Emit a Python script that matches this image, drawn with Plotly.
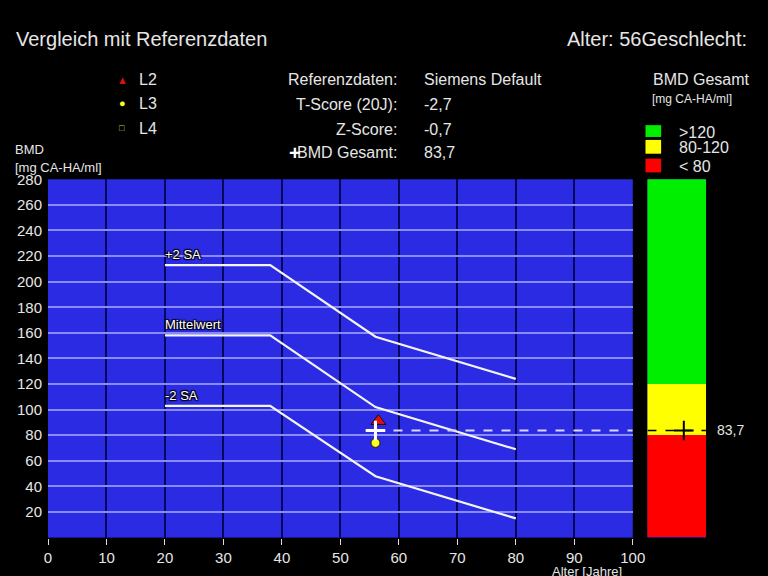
import plotly.graph_objects as go

# ---------------- data ----------------
ref_ages = [20, 38, 56, 80]
plus2sa = [213, 213, 157, 124]
mittelwert = [158, 158, 102, 69]
minus2sa = [103, 103, 48, 15]
curve_labels = ["+2 SA", "Mittelwert", "-2 SA"]

patient_age = 56
l2_value = 91
l3_value = 74
bmd_total = 83.7

class_bases = [0, 80, 120]
class_heights = [80, 40, 160]
class_colors = ["#ff0000", "#ffff00", "#00ee00"]
class_labels = ["< 80", "80-120", ">120"]

x_ticks = [0, 10, 20, 30, 40, 50, 60, 70, 80, 90, 100]
y_ticks = [20, 40, 60, 80, 100, 120, 140, 160, 180, 200, 220, 240, 260, 280]

info_labels = ["Referenzdaten:", "T-Score (20J):", "Z-Score:", "BMD Gesamt:"]
info_values = ["Siemens Default", "-2,7", "-0,7", "83,7"]

W, H = 768, 576
FONT = "Liberation Sans, Arial, sans-serif"
TXT = "#e6e6e6"


def px(x):
    return x / W


def py(y):
    return 1 - y / H


fig = go.Figure()

# reference curves
for vals, lab in zip([plus2sa, mittelwert, minus2sa], curve_labels):
    fig.add_trace(go.Scatter(x=ref_ages, y=vals, mode="lines",
                             line=dict(color="#f4f4f4", width=2.2),
                             hoverinfo="skip", showlegend=False))
    fig.add_annotation(x=ref_ages[0], y=vals[0], xref="x", yref="y",
                       text=lab, showarrow=False, xanchor="left", yanchor="bottom",
                       yshift=1, xshift=-2,
                       font=dict(family=FONT, size=13, color="white",
                                 shadow="1px 1px 1px black, -1px -1px 1px black, 1px -1px 1px black, -1px 1px 1px black"))

# dashed total line in main plot
fig.add_trace(go.Scatter(x=[patient_age, x_ticks[-1]], y=[bmd_total, bmd_total], mode="lines",
                         line=dict(color="#d8d8ff", width=2, dash="dash"),
                         hoverinfo="skip", showlegend=False))

# patient points
fig.add_trace(go.Scatter(x=[patient_age + 0.5], y=[l2_value], mode="markers",
                         marker=dict(symbol="triangle-up", size=13, color="#dd1010",
                                     line=dict(color="#300000", width=1)),
                         showlegend=False))
fig.add_trace(go.Scatter(x=[patient_age], y=[l3_value], mode="markers",
                         marker=dict(symbol="circle", size=9, color="#ffff20",
                                     line=dict(color="#202000", width=1)),
                         showlegend=False))
fig.add_trace(go.Scatter(x=[patient_age], y=[bmd_total], mode="markers",
                         marker=dict(symbol="cross-thin", size=14,
                                     line=dict(color="white", width=3)),
                         showlegend=False))

# class bar on the right
fig.add_trace(go.Bar(x=[0.5, 0.5, 0.5], y=class_heights, base=class_bases, width=1,
                     marker=dict(color=class_colors, line=dict(width=0)),
                     xaxis="x2", yaxis="y2", hoverinfo="skip", showlegend=False))
fig.add_trace(go.Scatter(x=[0, 1], y=[bmd_total, bmd_total], mode="lines",
                         line=dict(color="black", width=1.5, dash="dash"),
                         xaxis="x2", yaxis="y2", hoverinfo="skip", showlegend=False))
fig.add_trace(go.Scatter(x=[0.62], y=[bmd_total], mode="markers",
                         marker=dict(symbol="cross-thin", size=14, line=dict(color="black", width=2)),
                         xaxis="x2", yaxis="y2", hoverinfo="skip", showlegend=False))

anns = []
# title row
anns.append(dict(x=px(10), y=py(30), text="Vergleich mit Referenzdaten", xanchor="left",
                 font=dict(size=20, color=TXT)))
anns.append(dict(x=px(762), y=py(30), text="Alter: 56Geschlecht:", xanchor="right",
                 font=dict(size=20, color=TXT)))

# info block
rows_y = [72, 97, 122, 146]
for lab, val, yy in zip(info_labels, info_values, rows_y):
    anns.append(dict(x=px(404), y=py(yy), text=lab, xanchor="right", font=dict(size=16, color=TXT)))
    anns.append(dict(x=px(427), y=py(yy), text=val, xanchor="left", font=dict(size=16, color=TXT)))
anns.append(dict(x=px(298), y=py(146), text="<b>+</b>", xanchor="center",
                 font=dict(size=20, color="white")))

# point legend
leg_sym = ["▲", "●", "□"]
leg_col = ["#dd1010", "#ffff20", "#cccc50"]
leg_size = [11, 11, 9]
leg_txt = ["L2", "L3", "L4"]
for s, c, sz, t, yy in zip(leg_sym, leg_col, leg_size, leg_txt, [72, 96, 121]):
    anns.append(dict(x=px(121), y=py(yy), text=s, xanchor="center", font=dict(size=sz, color=c)))
    anns.append(dict(x=px(136), y=py(yy), text=t, xanchor="left", font=dict(size=16, color=TXT)))

# y axis title
anns.append(dict(x=px(9), y=py(143), text="BMD", xanchor="left", font=dict(size=13, color=TXT)))
anns.append(dict(x=px(9), y=py(161), text="[mg CA-HA/ml]", xanchor="left", font=dict(size=13, color=TXT)))

# x axis title
anns.append(dict(x=px(596), y=py(571), text="Alter [Jahre]", xanchor="center", font=dict(size=13, color=TXT)))

# right legend
anns.append(dict(x=px(662), y=py(72), text="BMD Gesamt", xanchor="left", font=dict(size=16, color=TXT)))
anns.append(dict(x=px(661), y=py(91), text="[mg CA-HA/ml]", xanchor="left", font=dict(size=12, color=TXT)))
sq_rows = [(118, 130), (133, 147), (152, 166)]
for (y0, y1), c, t in zip(sq_rows, class_colors[::-1], class_labels[::-1]):
    anns.append(dict(x=px(688), y=py((y0 + y1) / 2 + 1), text=t, xanchor="left", font=dict(size=16, color=TXT)))

# value label at the bar
anns.append(dict(x=px(727), y=bmd_total, yref="y", xref="paper", text="83,7", xanchor="left",
                 font=dict(size=14, color=TXT)))

for a in anns:
    a.setdefault("xref", "paper")
    a.setdefault("yref", "paper")
    a["showarrow"] = False
    a.setdefault("yanchor", "middle")
    a["font"].setdefault("family", FONT)
    fig.add_annotation(**a)

shapes = []
for (y0, y1), c in zip(sq_rows, class_colors[::-1]):
    shapes.append(dict(type="rect", xref="paper", yref="paper", x0=px(656), x1=px(672),
                       y0=py(y1), y1=py(y0), fillcolor=c, line=dict(width=0)))
fig.update_layout(shapes=shapes)

fig.update_layout(
    width=W, height=H, autosize=False,
    margin=dict(l=0, r=0, t=0, b=0),
    paper_bgcolor="black",
    plot_bgcolor="#2b2be3",
    font=dict(family=FONT, color=TXT),
    showlegend=False,
    bargap=0,
    xaxis=dict(domain=[px(45), px(643)], range=[0, 100], tickvals=x_ticks,
               showgrid=True, gridcolor="#08085a", gridwidth=2,
               zeroline=False, showline=False,
               ticks="outside", ticklen=6, tickcolor="#dddddd", tickwidth=1,
               tickfont=dict(size=15, color=TXT, family=FONT), fixedrange=True),
    yaxis=dict(domain=[py(537), py(173)], range=[0, 280], tickvals=y_ticks,
               showgrid=True, gridcolor="#8a8aff", gridwidth=1.5,
               zeroline=False, showline=False, ticks="", ticklabelstandoff=5,
               tickfont=dict(size=15, color=TXT, family=FONT), fixedrange=True),
    xaxis2=dict(domain=[px(658), px(718)], range=[0, 1], anchor="y2",
                visible=False, fixedrange=True),
    yaxis2=dict(domain=[py(537), py(173)], range=[0, 280], anchor="x2",
                visible=False, fixedrange=True),
)

post = (
    "var s=document.createElement('style');"
    "s.innerHTML='html,body{margin:0;padding:0;overflow:hidden;background:black;}';"
    "document.head.appendChild(s);"
)

fig.write_html("out.html", config={"displayModeBar": False}, post_script=post)
